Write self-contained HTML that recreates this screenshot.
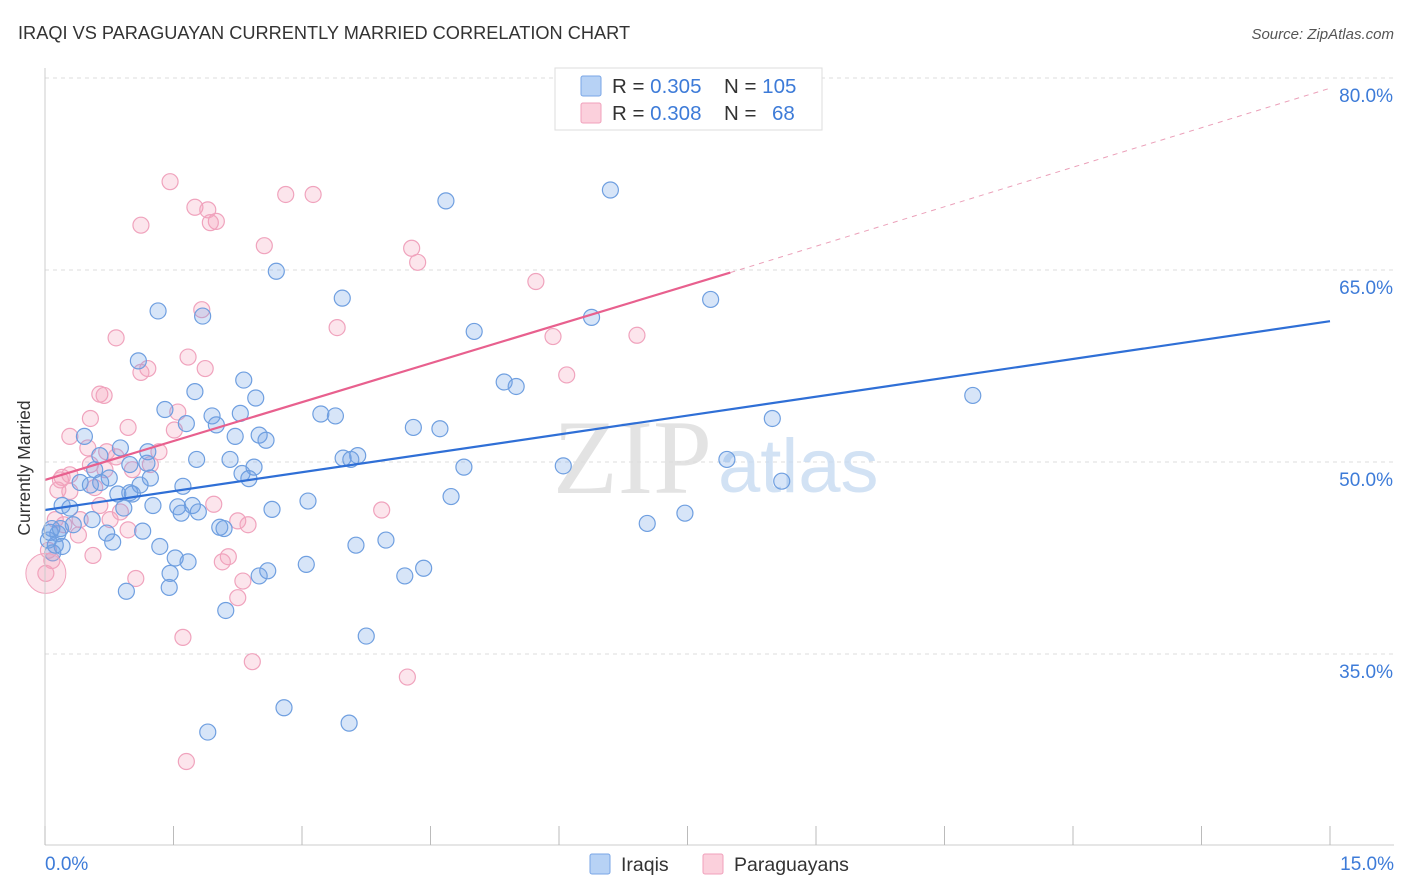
<!DOCTYPE html>
<html><head><meta charset="utf-8">
<style>
body{margin:0;background:#fff;font-family:"Liberation Sans",sans-serif;}
svg{display:block}
</style></head>
<body>
<svg id="chart" width="1406" height="892" viewBox="0 0 1406 892">
<text x="18" y="39" font-size="18.2" fill="#333">IRAQI VS PARAGUAYAN CURRENTLY MARRIED CORRELATION CHART</text>
<text x="1394" y="39" font-size="15" fill="#555" font-style="italic" text-anchor="end">Source: ZipAtlas.com</text>
<g id="grid"></g>
<g>
<text x="553" y="493" font-size="106" fill="#ddd" font-family="Liberation Serif,serif" opacity="0.8">ZIP</text>
<text x="718" y="492" font-size="76" fill="#c8dbf2" opacity="0.8">atlas</text>
</g>
<g id="pts"></g>
<g id="lines"></g>
<line x1="45" y1="68" x2="45" y2="845" stroke="#ccc"/>
<line x1="45" y1="845" x2="1394" y2="845" stroke="#ccc"/>
<g id="ticks"></g>
<text x="18" y="456" font-size="17.5" fill="#333" transform="rotate(-90 30 456)" text-anchor="middle">Currently Married</text>
<text x="45" y="870" font-size="19" fill="#3d7bd8">0.0%</text>
<text x="1394" y="870" font-size="19" fill="#3d7bd8" text-anchor="end">15.0%</text>
<g>
<rect x="555" y="68" width="267" height="62" fill="#fff" stroke="#ddd"/>
<rect x="581" y="76" width="20" height="20" fill="#b7d2f5" stroke="#7aa6e6" rx="2"/>
<rect x="581" y="103" width="20" height="20" fill="#fbd0dc" stroke="#f0a0bb" rx="2"/>
<text x="612" y="93" font-size="20.5" fill="#333">R = <tspan fill="#3d7bd8">0.305</tspan></text>
<text x="724" y="93" font-size="20.5" fill="#333">N = <tspan fill="#3d7bd8">105</tspan></text>
<text x="612" y="120" font-size="20.5" fill="#333">R = <tspan fill="#3d7bd8">0.308</tspan></text>
<text x="724" y="120" font-size="20.5" fill="#333">N = <tspan fill="#3d7bd8" x="772">68</tspan></text>
</g>
<g>
<rect x="590" y="854" width="20" height="20" fill="#b7d2f5" stroke="#7aa6e6" rx="2"/>
<text x="621" y="871" font-size="19.5" fill="#333">Iraqis</text>
<rect x="703" y="854" width="20" height="20" fill="#fbd0dc" stroke="#f0a0bb" rx="2"/>
<text x="734" y="871" font-size="19.5" fill="#333">Paraguayans</text>
</g>
</svg>
<script>
const yTicks=[80,65,50,35];
const xTickVals=[0,1.5,3,4.5,6,7.5,9,10.5,12,13.5,15];
const blueX=[6.60,4.68,2.70,3.47,7.77,6.38,1.32,1.84,5.01,1.09,2.32,5.36,5.50,1.75,2.46,10.83,1.40,3.22,3.39,1.95,2.28,8.49,1.65,2.00,4.30,4.61,2.22,2.50,2.58,0.46,0.64,3.65,3.48,3.57,2.16,1.77,2.44,0.99,1.19,4.89,6.05,7.96,2.30,2.38,1.23,0.75,1.61,0.41,0.53,1.11,0.85,1.02,0.65,3.07,4.74,1.72,1.26,1.55,0.92,1.59,1.79,2.65,0.29,0.20,0.55,0.33,8.60,7.47,7.03,2.04,2.09,0.72,1.14,0.15,0.06,0.12,0.20,0.79,1.34,3.98,3.63,0.09,1.52,1.67,3.05,2.60,2.50,4.42,4.20,1.46,1.45,0.95,2.11,3.75,2.79,3.55,1.90,0.04,0.08,0.18,0.99,0.58,0.88,1.20];
const blueY=[71.25,70.4,64.9,62.8,62.7,61.3,61.8,61.4,60.2,57.9,56.4,56.25,55.9,55.5,55.0,55.2,54.1,53.75,53.6,53.6,53.8,53.4,53.0,52.9,52.7,52.6,52.0,52.1,51.7,52.0,50.5,50.5,50.3,50.2,50.2,50.2,49.6,49.8,49.9,49.6,49.7,50.2,49.1,48.7,48.75,48.75,48.1,48.4,48.2,48.2,47.5,47.5,48.4,46.95,47.3,46.6,46.6,46.5,46.4,46.0,46.1,46.3,46.4,46.6,45.5,45.1,48.5,46.0,45.2,44.9,44.8,44.45,44.6,44.4,44.5,43.5,43.4,43.75,43.4,43.9,43.5,42.9,42.5,42.2,42.0,41.5,41.1,41.7,41.1,41.3,40.2,39.9,38.4,36.4,30.8,29.6,28.9,43.9,44.8,44.8,47.6,49.4,51.1,50.8];
const pinkX=[1.46,2.81,3.13,1.75,1.90,2.00,1.93,1.12,2.56,4.28,4.35,5.73,1.83,3.41,5.93,6.91,0.83,1.67,1.12,1.87,1.20,6.09,0.64,0.69,0.53,1.55,0.97,1.51,0.29,1.33,0.83,0.72,0.50,1.23,1.02,0.20,0.29,0.53,0.70,0.29,0.15,0.58,0.88,0.76,0.97,1.97,2.25,2.37,3.93,0.39,0.12,0.22,0.56,2.14,2.07,2.31,2.25,1.06,1.61,2.42,4.23,1.65,0.01,0.04,0.08,0.41,0.64,0.18];
const pinkY=[71.9,70.9,70.9,69.9,69.7,68.8,68.7,68.5,66.9,66.7,65.6,64.1,61.9,60.5,59.8,59.9,59.7,58.2,57.0,57.3,57.3,56.8,55.3,55.2,53.4,53.9,52.7,52.5,52.0,50.8,50.4,50.8,51.1,49.8,49.4,48.8,49.0,49.8,49.4,47.7,47.8,48.0,46.1,45.5,44.7,46.7,45.4,45.1,46.25,44.3,45.5,45.1,42.7,42.6,42.2,40.7,39.4,40.9,36.3,34.4,33.2,26.6,41.3,43.1,42.3,45.5,46.6,48.6];
const blueTrend=[[0,46.25],[15,61.0]];
const pinkTrend=[[0,48.6],[8.0,64.8]];
const pinkDash=[[8.0,64.8],[15,79.2]];

const NS="http://www.w3.org/2000/svg";
const xs=v=>45+v*(1285/15);
const ys=v=>462-(v-50)*12.8;
function mk(tag,attrs,parent){const e=document.createElementNS(NS,tag);for(const k in attrs)e.setAttribute(k,attrs[k]);parent.appendChild(e);return e;}
const grid=document.getElementById('grid');
yTicks.forEach(t=>{
  const l=mk('line',{x1:45,x2:1394,y1:ys(t),y2:ys(t),stroke:'#ddd','stroke-dasharray':'4 4'},grid);
  
  
  const tx=mk('text',{x:1393,y:ys(t)+24,'font-size':19,fill:'#3d7bd8','text-anchor':'end'},grid);
  tx.textContent=t.toFixed(1)+'%';
  
  
});
const ticks=document.getElementById('ticks');
xTickVals.forEach(t=>{
  const l=mk('line',{x1:xs(t),x2:xs(t),y1:826,y2:845,stroke:'#bbb'},ticks);
  
  
});
const pts=document.getElementById('pts');
function dots(X,Y,fill,stroke,name){
  X.forEach((x,i)=>{
    const c=mk('circle',{cx:xs(x),cy:ys(Y[i]),r:8,fill:fill,stroke:stroke,'stroke-width':1.2},pts);
    
    
  });
}
dots(pinkX,pinkY,'rgba(243,160,188,0.28)','#f0a3bd','paraguayan-point');
dots(blueX,blueY,'rgba(110,160,230,0.28)','#6f9fe0','iraqi-point');
const big=mk('circle',{cx:xs(pinkX[62]),cy:ys(pinkY[62]),r:20,fill:'rgba(243,160,188,0.28)',stroke:'#f0a3bd'},pts);


const lines=document.getElementById('lines');
function ln(p,col,w,dash,name){
  const l=mk('line',{x1:xs(p[0][0]),y1:ys(p[0][1]),x2:xs(p[1][0]),y2:ys(p[1][1]),stroke:col,'stroke-width':w},lines);
  if(dash)l.setAttribute('stroke-dasharray',dash);
  
  
}
ln(blueTrend,'#2f6fd6',2.2,null,'iraqi-trend-line');
ln(pinkTrend,'#e8608e',2.2,null,'paraguayan-trend-line');
ln(pinkDash,'#eba0b9',1,'5 5','paraguayan-trend-extension');
</script>
</body></html>
